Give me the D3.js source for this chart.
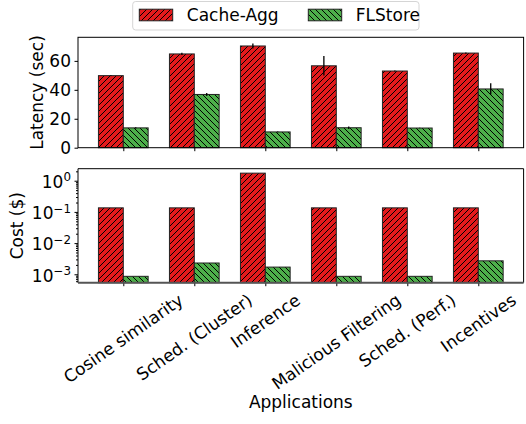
<!DOCTYPE html>
<html>
<head>
<meta charset="utf-8">
<script src="https://d3js.org/d3.v7.min.js"></script>
<style>
  body { margin: 0; background: #fff; }
  text { font-family: "DejaVu Sans", sans-serif; }
</style>
</head>
<body>
<script>

  // values
  var apps = ["Cosine similarity", "Sched. (Cluster)", "Inference", "Malicious Filtering", "Sched. (Perf.)", "Incentives"];
  var series = ["Cache-Agg", "FLStore"];
  var latCache = [49.8, 64.8, 70.3, 56.6, 53.0, 65.4];
  var latCacheErr = [0.3, 0.8, 1.8, 6.7, 0.4, 0.4];
  var latFL = [13.7, 36.8, 10.9, 13.8, 13.6, 40.6];
  var latFLErr = [0.4, 1.0, 0.3, 0.8, 0.2, 3.9];
  var costCache = [0.135, 0.135, 1.75, 0.135, 0.135, 0.135];
  var costFL = [0.00086, 0.0023, 0.0017, 0.00086, 0.00086, 0.0027];
  var latTicks = [0, 20, 40, 60];
  var costTicks = [1e-3, 1e-2, 1e-1, 1];

  var W = 526, H = 424, fs = 17;
  var left = 78, right = 523.6;
  var top1 = 37.3, bot1 = 147.7, top2 = 168.7, bot2 = 282.7;
  var bw = 0.35;

  var svg = d3.select("body").append("svg")
    .attr("width", W)
    .attr("height", H);

  // hatch patterns
  var defs = svg.append("defs");
  var hatch = function(id, color, dir) {
    var s = 6;
    var p = defs.append("pattern")
      .attr("id", id)
      .attr("patternUnits", "userSpaceOnUse")
      .attr("width", s).attr("height", s);
    p.append("rect").attr("width", s).attr("height", s).attr("fill", color);
    var d = dir == "/" ?
      "M0," + s + "L" + s + ",0M" + (-s/2) + "," + (s/2) + "L" + (s/2) + "," + (-s/2) + "M" + (s/2) + "," + (1.5*s) + "L" + (1.5*s) + "," + (s/2) :
      "M0,0L" + s + "," + s + "M" + (-s/2) + "," + (s/2) + "L" + (s/2) + "," + (1.5*s) + "M" + (s/2) + "," + (-s/2) + "L" + (1.5*s) + "," + (s/2);
    p.append("path").attr("d", d).attr("stroke", "#000").attr("stroke-width", 1);
  }
  hatch("hRed", "#e41a1c", "/");
  hatch("hGreen", "#4daf4a", "\\");
  var fills = ["url(#hRed)", "url(#hGreen)"];

  var x = d3.scaleLinear().domain([-0.638, 5.638]).range([left, right]);
  var y1 = d3.scaleLinear().domain([0, 76.3]).range([bot1, top1]);
  var y2 = d3.scaleLog().domain([5.37e-4, 2.43]).range([bot2, top2]);

  // ---- top panel: latency
  var g1 = svg.append("g");
  [latCache, latFL].forEach(function(vals, k) {
    g1.selectAll(".bar" + k)
      .data(vals)
      .enter().append("rect")
      .attr("x", function(d, i) { return x(i - bw + k * bw); })
      .attr("width", x(bw) - x(0))
      .attr("y", function(d) { return y1(d); })
      .attr("height", function(d) { return bot1 - y1(d); })
      .attr("fill", fills[k])
      .attr("stroke", "#222")
      .attr("stroke-width", 1);
  });
  [[latCache, latCacheErr], [latFL, latFLErr]].forEach(function(pair, k) {
    g1.selectAll(".err" + k)
      .data(pair[0])
      .enter().append("line")
      .attr("x1", function(d, i) { return x(i - bw / 2 + k * bw); })
      .attr("x2", function(d, i) { return x(i - bw / 2 + k * bw); })
      .attr("y1", function(d, i) { return y1(d - pair[1][i]); })
      .attr("y2", function(d, i) { return y1(d + pair[1][i]); })
      .attr("stroke", "#000")
      .attr("stroke-width", 1.3);
  });

  var ay1 = svg.append("g")
    .attr("transform", "translate(" + left + ",0)")
    .call(d3.axisLeft(y1).tickValues(latTicks).tickSize(3.5).tickPadding(3.5));
  ay1.selectAll("text").style("font-size", fs + "px").attr("fill", "#000");

  var ax1 = svg.append("g")
    .attr("transform", "translate(0," + bot1 + ")")
    .call(d3.axisBottom(x).tickValues(d3.range(apps.length)).tickSize(3.5).tickFormat(""));

  svg.append("rect")
    .attr("x", left).attr("y", top1)
    .attr("width", right - left).attr("height", bot1 - top1)
    .attr("fill", "none").attr("stroke", "#000").attr("stroke-width", 1);

  // ---- bottom panel: cost (log)
  var g2 = svg.append("g");
  [costCache, costFL].forEach(function(vals, k) {
    g2.selectAll(".bar" + k)
      .data(vals)
      .enter().append("rect")
      .attr("x", function(d, i) { return x(i - bw + k * bw); })
      .attr("width", x(bw) - x(0))
      .attr("y", function(d) { return y2(d); })
      .attr("height", function(d) { return bot2 - y2(d); })
      .attr("fill", fills[k])
      .attr("stroke", "#222")
      .attr("stroke-width", 1);
  });

  var minor = [];
  [-4, -3, -2, -1, 0].forEach(function(e) {
    for (var m = 2; m <= 9; m++) {
      var v = m * Math.pow(10, e);
      if (v >= y2.domain()[0] && v <= y2.domain()[1]) minor.push(v);
    }
  });
  svg.append("g")
    .attr("transform", "translate(" + left + ",0)")
    .call(d3.axisLeft(y2).tickValues(minor).tickSize(2).tickFormat(""));
  var ay2 = svg.append("g")
    .attr("transform", "translate(" + left + ",0)")
    .call(d3.axisLeft(y2).tickValues(costTicks).tickSize(3.5).tickPadding(3.5).tickFormat(""));
  ay2.selectAll(".tick").each(function(d) {
    var t = d3.select(this).append("text")
      .attr("x", -7)
      .attr("dy", "0.4em")
      .attr("text-anchor", "end")
      .attr("fill", "#000")
      .style("font-size", fs + "px");
    t.append("tspan").text("10");
    t.append("tspan")
      .attr("dy", "-0.55em")
      .style("font-size", (fs * 0.7) + "px")
      .text(String(Math.round(Math.log10(d))).replace("-", "\u2212"));
  });
  svg.selectAll(".domain").remove();

  var ax2 = svg.append("g")
    .attr("transform", "translate(0," + bot2 + ")")
    .call(d3.axisBottom(x).tickValues(d3.range(apps.length)).tickSize(3.5).tickFormat(""));
  ax2.select(".domain").remove();

  svg.append("path")
    .attr("d", "M" + left + "," + bot2 + "V" + top2 + "H" + right + "V" + bot2)
    .attr("fill", "none").attr("stroke", "#000").attr("stroke-width", 1);
  svg.append("line")
    .attr("x1", left).attr("x2", right)
    .attr("y1", bot2).attr("y2", bot2)
    .attr("stroke", "#555").attr("stroke-width", 2);

  // rotated category labels, bbox centred under each tick
  var ang = 35 * Math.PI / 180;
  apps.forEach(function(a, i) {
    var t = svg.append("text")
      .attr("text-anchor", "middle")
      .attr("dominant-baseline", "central")
      .attr("fill", "#000")
      .style("font-size", fs + "px")
      .text(a);
    var w = t.node().getComputedTextLength();
    var h = fs * 1.05;
    var bh = w * Math.sin(ang) + h * Math.cos(ang);
    var cy = bot2 + 8 + bh / 2;
    t.attr("transform", "translate(" + x(i) + "," + cy + ") rotate(-35)");
  });

  svg.append("text")
    .attr("x", (left + right) / 2).attr("y", 408)
    .attr("text-anchor", "middle")
    .style("font-size", fs + "px")
    .text("Applications");

  svg.append("text")
    .attr("transform", "translate(37," + ((top1 + bot1) / 2) + ") rotate(-90)")
    .attr("dy", "0.35em")
    .attr("text-anchor", "middle")
    .style("font-size", fs + "px")
    .text("Latency (sec)");

  svg.append("text")
    .attr("transform", "translate(17.5," + ((top2 + bot2) / 2) + ") rotate(-90)")
    .attr("dy", "0.35em")
    .attr("text-anchor", "middle")
    .style("font-size", fs + "px")
    .text("Cost ($)");

  svg.selectAll(".tick line").attr("stroke", "#000");

  // legend
  var lg = svg.append("g");
  lg.append("rect")
    .attr("x", 132.7).attr("y", 1.5)
    .attr("width", 286.3).attr("height", 28.5)
    .attr("rx", 3)
    .attr("fill", "#fff").attr("stroke", "#d5d5d5").attr("stroke-width", 1);
  var lx = [139.3, 308.3];
  series.forEach(function(s, k) {
    lg.append("rect")
      .attr("x", lx[k]).attr("y", 9.2)
      .attr("width", 33.4).attr("height", 11.6)
      .attr("fill", fills[k])
      .attr("stroke", "#222").attr("stroke-width", 1);
    lg.append("text")
      .attr("x", lx[k] + 47.5).attr("y", 21)
      .style("font-size", fs + "px")
      .text(s);
  });

</script>
</body>
</html>
